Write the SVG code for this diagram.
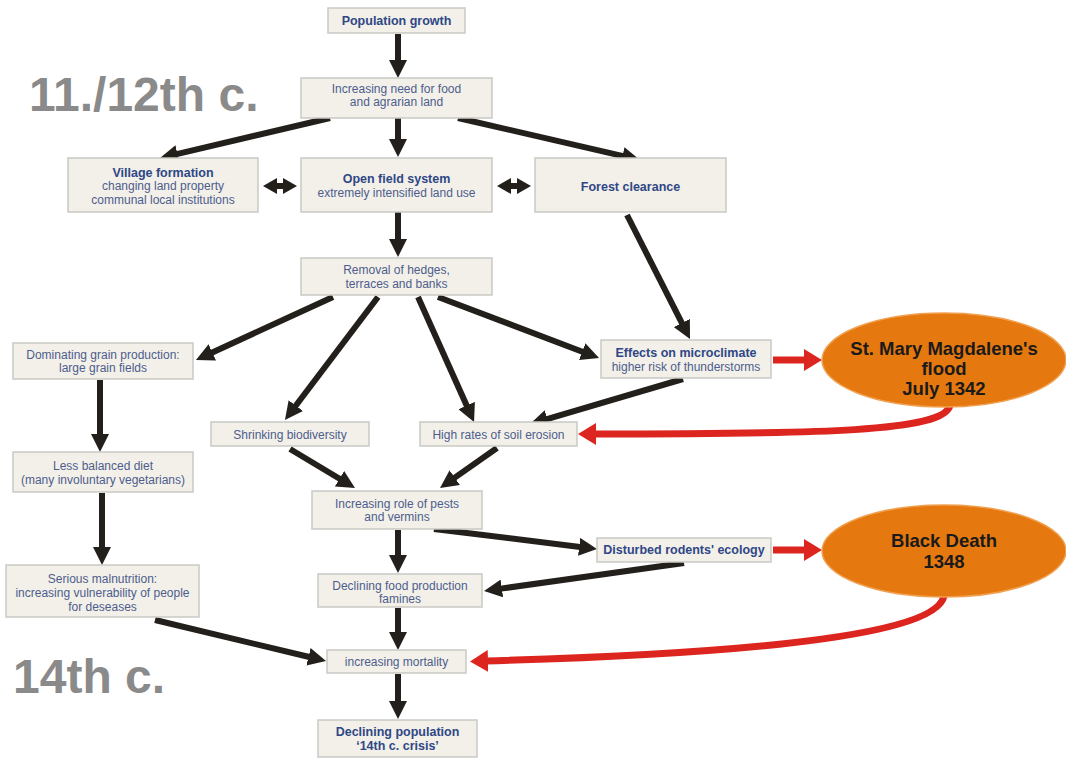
<svg xmlns="http://www.w3.org/2000/svg" width="1066" height="759" viewBox="0 0 1066 759">
<defs>
<style>
.box{fill:#f2f0e8;stroke:#c9c9c4;stroke-width:1.5}
.t{font-family:"Liberation Sans",Arial,sans-serif;font-size:12px;fill:#4e5d8e;text-anchor:middle}
.b{font-weight:bold;font-size:12.5px;fill:#2f4787}
.era{font-family:"Liberation Sans",Arial,sans-serif;font-size:48px;font-weight:bold;fill:#8a8a8a}
.ell{fill:#e5780f;stroke:#f0a050;stroke-width:1.5}
.et{font-family:"Liberation Sans",Arial,sans-serif;font-size:18.5px;font-weight:bold;fill:#1a1a1a;text-anchor:middle}
.k{stroke:#231f1b;stroke-width:6;fill:none}
.r{stroke:#dd2520;stroke-width:7;fill:none}
</style>
<marker id="ak" viewBox="0 0 18 18" refX="3" refY="9" markerWidth="18" markerHeight="18" markerUnits="userSpaceOnUse" orient="auto"><path d="M0,0 L18,9 L0,18 z" fill="#231f1b"/></marker>
<marker id="ar" viewBox="0 0 18 22" refX="3" refY="11" markerWidth="18" markerHeight="22" markerUnits="userSpaceOnUse" orient="auto"><path d="M0,0 L18,11 L0,22 z" fill="#dd2520"/></marker>
<marker id="ad" viewBox="0 0 14 16" refX="2" refY="8" markerWidth="14" markerHeight="16" markerUnits="userSpaceOnUse" orient="auto-start-reverse"><path d="M0,0 L14,8 L0,16 z" fill="#231f1b"/></marker>
</defs>
<rect width="1066" height="759" fill="#ffffff"/>
<text class="era" x="29" y="111">11./12th c.</text>
<text class="era" x="13" y="693">14th c.</text>
<g id="connectors">
<line class="k" x1="398" y1="34" x2="398" y2="63" marker-end="url(#ak)"/>
<line class="k" x1="330" y1="118" x2="174.6" y2="154.6" marker-end="url(#ak)"/>
<line class="k" x1="398" y1="118" x2="398" y2="142" marker-end="url(#ak)"/>
<line class="k" x1="458" y1="118" x2="625.4" y2="156.6" marker-end="url(#ak)"/>
<line class="k" x1="275" y1="186" x2="285" y2="186" marker-start="url(#ad)" marker-end="url(#ad)"/>
<line class="k" x1="509" y1="186" x2="519" y2="186" marker-start="url(#ad)" marker-end="url(#ad)"/>
<line class="k" x1="398" y1="212" x2="398" y2="242" marker-end="url(#ak)"/>
<line class="k" x1="627" y1="215" x2="683.2" y2="325.6" marker-end="url(#ak)"/>
<line class="k" x1="333" y1="297" x2="209.6" y2="353.7" marker-end="url(#ak)"/>
<line class="k" x1="378" y1="297" x2="294" y2="408" marker-end="url(#ak)"/>
<line class="k" x1="418" y1="297" x2="467.9" y2="408.3" marker-end="url(#ak)"/>
<line class="k" x1="438" y1="297" x2="585" y2="352.7" marker-end="url(#ak)"/>
<line class="k" x1="683" y1="379" x2="544.4" y2="419.8" marker-end="url(#ak)"/>
<line class="k" x1="100" y1="380" x2="100" y2="437" marker-end="url(#ak)"/>
<line class="k" x1="290" y1="449" x2="342.1" y2="480.3" marker-end="url(#ak)"/>
<line class="k" x1="497" y1="448" x2="452.3" y2="479.4" marker-end="url(#ak)"/>
<line class="k" x1="102" y1="493" x2="102" y2="550" marker-end="url(#ak)"/>
<line class="k" x1="434" y1="529" x2="582.1" y2="547.2" marker-end="url(#ak)"/>
<line class="k" x1="398" y1="530" x2="398" y2="558" marker-end="url(#ak)"/>
<line class="k" x1="684" y1="563" x2="498.9" y2="588.9" marker-end="url(#ak)"/>
<line class="k" x1="398" y1="608" x2="398" y2="635" marker-end="url(#ak)"/>
<line class="k" x1="155" y1="620" x2="311.4" y2="657.5" marker-end="url(#ak)"/>
<line class="k" x1="398" y1="674" x2="398" y2="704" marker-end="url(#ak)"/>
<line class="r" x1="773" y1="360" x2="807" y2="360" marker-end="url(#ar)"/>
<line class="r" x1="773" y1="550" x2="807" y2="550" marker-end="url(#ar)"/>
<path class="r" d="M950,405 C945,432 820,434 593,434" marker-end="url(#ar)"/>
<path class="r" d="M944,596 C935,640 700,655 485,661" marker-end="url(#ar)"/>
</g>
<g id="n-population-growth"><rect class="box" x="328" y="8" width="137" height="25"/><text class="t b" x="396.5" y="25">Population growth</text></g>
<g id="n-increasing-need"><rect class="box" x="301" y="78" width="191" height="40"/><text class="t" x="396.5" y="93">Increasing need for food</text><text class="t" x="396.5" y="106">and agrarian land</text></g>
<g id="n-village"><rect class="box" x="68" y="158" width="190" height="54"/><text class="t b" x="163" y="177">Village formation</text><text class="t" x="163" y="190">changing land property</text><text class="t" x="163" y="203.5">communal local institutions</text></g>
<g id="n-open-field"><rect class="box" x="301" y="158" width="191" height="54"/><text class="t b" x="396.5" y="183">Open field system</text><text class="t" x="396.5" y="197">extremely intensified land use</text></g>
<g id="n-forest"><rect class="box" x="535" y="158" width="191" height="54"/><text class="t b" x="630.5" y="190.5">Forest clearance</text></g>
<g id="n-removal"><rect class="box" x="301" y="258" width="191" height="37"/><text class="t" x="396.5" y="273.5">Removal of hedges,</text><text class="t" x="396.5" y="287.5">terraces and banks</text></g>
<g id="n-dominating"><rect class="box" x="13" y="343" width="180" height="36"/><text class="t" x="103" y="358.5">Dominating grain production:</text><text class="t" x="103" y="371.5">large grain fields</text></g>
<g id="n-effects"><rect class="box" x="601" y="340" width="170" height="38"/><text class="t b" x="686" y="356.5">Effects on microclimate</text><text class="t" x="686" y="370.5">higher risk of thunderstorms</text></g>
<g id="n-st-mary"><ellipse class="ell" cx="944" cy="360" rx="122" ry="47"/><text class="et" x="944" y="355">St. Mary Magdalene's</text><text class="et" x="944" y="375">flood</text><text class="et" x="944" y="395">July 1342</text></g>
<g id="n-shrinking"><rect class="box" x="211" y="422" width="158" height="24"/><text class="t" x="290" y="438.5">Shrinking biodiversity</text></g>
<g id="n-soil-erosion"><rect class="box" x="420" y="422" width="157" height="24"/><text class="t" x="498.5" y="438.5">High rates of soil erosion</text></g>
<g id="n-less-balanced"><rect class="box" x="13" y="452" width="180" height="40"/><text class="t" x="103" y="469.5">Less balanced diet</text><text class="t" x="103" y="483.5">(many involuntary vegetarians)</text></g>
<g id="n-serious"><rect class="box" x="6" y="565" width="193" height="52"/><text class="t" x="102.5" y="582.5">Serious malnutrition:</text><text class="t" x="102.5" y="596.5">increasing vulnerability of people</text><text class="t" x="102.5" y="610.5">for deseases</text></g>
<g id="n-pests"><rect class="box" x="312" y="491" width="170" height="38"/><text class="t" x="397" y="507.5">Increasing role of pests</text><text class="t" x="397" y="520.5">and vermins</text></g>
<g id="n-rodents"><rect class="box" x="597" y="538" width="174" height="24"/><text class="t b" x="684" y="554">Disturbed rodents' ecology</text></g>
<g id="n-black-death"><ellipse class="ell" cx="944" cy="551" rx="122" ry="46"/><text class="et" x="944" y="547">Black Death</text><text class="et" x="944" y="568">1348</text></g>
<g id="n-declining-food"><rect class="box" x="318" y="574" width="164" height="33"/><text class="t" x="400" y="589.5">Declining food production</text><text class="t" x="400" y="602.5">famines</text></g>
<g id="n-mortality"><rect class="box" x="327" y="650" width="139" height="23"/><text class="t" x="396.5" y="665.5">increasing mortality</text></g>
<g id="n-declining-population"><rect class="box" x="318" y="720" width="159" height="37"/><text class="t b" x="397.5" y="735.5">Declining population</text><text class="t b" x="397.5" y="749.5">‘14th c. crisis’</text></g>
</svg>
